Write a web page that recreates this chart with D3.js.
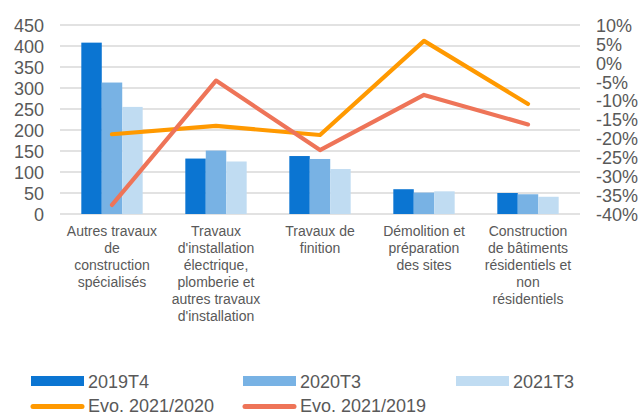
<!DOCTYPE html>
<html><head><meta charset="utf-8">
<script src="https://cdn.jsdelivr.net/npm/d3@7"></script>
<style>body{margin:0;background:#fff}svg{display:block;font-family:"Liberation Sans",Arial,sans-serif}</style>
</head><body><svg id="c" width="639" height="412"></svg>
<script>
const categories = [
  "Autres travaux\nde\nconstruction\nspécialisés",
  "Travaux\nd'installation\nélectrique,\nplomberie et\nautres travaux\nd'installation",
  "Travaux de\nfinition",
  "Démolition et\npréparation\ndes sites",
  "Construction\nde bâtiments\nrésidentiels et\nnon\nrésidentiels"
];
const barSeries = ["2019T4", "2020T3", "2021T3"];
const v2019T4 = [408, 132, 138, 59, 50];
const v2020T3 = [313, 151, 131, 51, 47];
const v2021T3 = [255, 125, 107, 54, 41];
const lineSeries = ["Evo. 2021/2020", "Evo. 2021/2019"];
const evo20212020 = [-18.9, -16.7, -19.1, 5.8, -10.9];
const evo20212019 = [-37.6, -4.7, -23.1, -8.5, -16.3];
const leftTicks = [0, 50, 100, 150, 200, 250, 300, 350, 400, 450];
const rightTicks = [-40, -35, -30, -25, -20, -15, -10, -5, 0, 5, 10];

const barColors = ["#0b75d2", "#78b2e4", "#c0dcf2"];
const lineColors = ["#ff9900", "#ee7458"];
const textColor = "#595959";

const svg = d3.select("#c");
const L = 60, R = 580, T = 25, B = 214;

const x = d3.scaleBand().domain(d3.range(categories.length)).range([L, R]).paddingInner(0.41).paddingOuter(0.205);
const xs = d3.scaleBand().domain(barSeries).range([0, x.bandwidth()]);
const y = d3.scaleLinear().domain([0, 450]).range([B, T]);
const y2 = d3.scaleLinear().domain([-40, 10]).range([B, T]);

// grid
svg.append("g").selectAll("line").data(leftTicks).join("line")
  .attr("x1", L).attr("x2", R).attr("y1", d => y(d)).attr("y2", d => y(d))
  .attr("stroke", "#d9d9d9").attr("stroke-width", 1.3);

// left axis
const ax = d3.axisLeft(y).tickValues(leftTicks).tickSize(0).tickPadding(0);
const gL = svg.append("g").attr("transform", `translate(${L-16},0)`).call(ax);
gL.select(".domain").remove();
gL.selectAll("text").attr("fill", textColor).style("font-size", "18px").attr("dy", "0.35em");

// right axis
const ax2 = d3.axisRight(y2).tickValues(rightTicks).tickSize(0).tickPadding(0).tickFormat(d => d + "%");
const gR = svg.append("g").attr("transform", `translate(596,0)`).call(ax2);
gR.select(".domain").remove();
gR.selectAll("text").attr("fill", textColor).style("font-size", "18px").attr("dy", "0.35em");

// bars
const barData = [v2019T4, v2020T3, v2021T3];
barData.forEach((vals, si) => {
  svg.append("g").selectAll("rect").data(vals).join("rect")
    .attr("x", (d, i) => x(i) + xs(barSeries[si]))
    .attr("width", xs.bandwidth())
    .attr("y", d => y(d))
    .attr("height", d => y(0) - y(d))
    .attr("fill", barColors[si]);
});

// lines
const lineData = [evo20212020, evo20212019];
const lineGen = d3.line().x((d, i) => x(i) + x.bandwidth() / 2).y(d => y2(d));
lineData.forEach((vals, si) => {
  svg.append("path").datum(vals).attr("d", lineGen)
    .attr("fill", "none").attr("stroke", lineColors[si]).attr("stroke-width", 4.2)
    .attr("stroke-linejoin", "round").attr("stroke-linecap", "round");
});

// category labels
const cl = svg.append("g");
categories.forEach((c, i) => {
  const t = cl.append("text").attr("x", x(i) + x.bandwidth() / 2).attr("y", 236)
    .attr("text-anchor", "middle").attr("fill", textColor).style("font-size", "14px");
  c.split("\n").forEach((ln, j) => {
    t.append("tspan").attr("x", x(i) + x.bandwidth() / 2).attr("y", 236 + j * 17).text(ln);
  });
});

// legend
const lg = svg.append("g");
const legCols = [31, 243, 456];
barSeries.forEach((s, i) => {
  lg.append("rect").attr("x", legCols[i]).attr("y", 376).attr("width", 53).attr("height", 10).attr("fill", barColors[i]);
  lg.append("text").attr("x", legCols[i] + 57).attr("y", 387.5).attr("fill", textColor).style("font-size", "18px").text(s);
});
lineSeries.forEach((s, i) => {
  lg.append("line").attr("x1", legCols[i] + 2).attr("x2", legCols[i] + 51).attr("y1", 406.5).attr("y2", 406.5)
    .attr("stroke", lineColors[i]).attr("stroke-width", 5).attr("stroke-linecap", "round");
  lg.append("text").attr("x", legCols[i] + 57).attr("y", 411.5).attr("fill", textColor).style("font-size", "18px").text(s);
});
</script></body></html>
